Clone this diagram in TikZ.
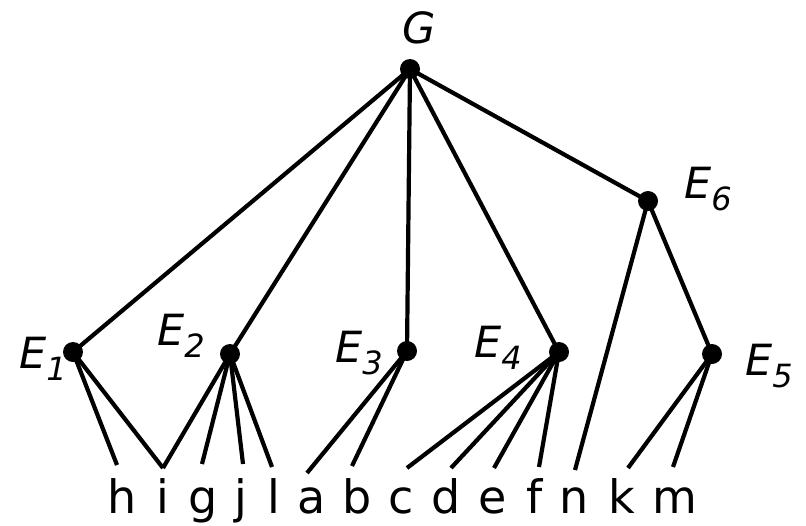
\documentclass[tikz,border=0pt]{standalone}
\usepackage{fontspec}
\setmainfont{DejaVu Sans}
\newcommand{\Elab}[1]{\textit{E}\raisebox{-12pt}{\fontsize{32}{32}\selectfont\textit{#1}}}
\begin{document}
\begin{tikzpicture}[x=1pt,y=-1pt,
  dot/.style={circle,fill=black,inner sep=0pt,minimum size=20pt},
  lab/.style={anchor=base west,inner sep=0pt,font=\fontsize{43}{48}\selectfont},
  leaf/.style={anchor=base,inner sep=0pt,font=\fontsize{46}{52}\selectfont},
  edge/.style={line width=4.2pt}]
\useasboundingbox (0,0) rectangle (806,525);
% internal nodes
\node[dot] (G) at (410,69) {};
\node[dot] (E1) at (73,352) {};
\node[dot] (E2) at (230,354) {};
\node[dot] (E3) at (407,351) {};
\node[dot] (E4) at (559,352) {};
\node[dot] (E5) at (712,354) {};
\node[dot] (E6) at (648,201) {};
% labels
\node[lab] (lG) at (402,43) {\textit{G}};
\node[lab] (l1) at (19,368) {\Elab{1}};
\node[lab] (l2) at (157,345) {\Elab{2}};
\node[lab] (l3) at (335,362) {\Elab{3}};
\node[lab] (l4) at (474,357) {\Elab{4}};
\node[lab] (l5) at (745,375) {\Elab{5}};
\node[lab] (l6) at (684,198) {\Elab{6}};
% leaves
\node[leaf] (h) at (122,513) {h};
\node[leaf] (i) at (163,513) {i};
\node[leaf] (g) at (203,513) {g};
\node[leaf] (j) at (241,513) {j};
\node[leaf] (l) at (274,513) {l};
\node[leaf] (a) at (312,513) {a};
\node[leaf] (b) at (357,513) {b};
\node[leaf] (c) at (401,513) {c};
\node[leaf] (d) at (446,513) {d};
\node[leaf] (e) at (493,513) {e};
\node[leaf] (f) at (535,513) {f};
\node[leaf] (n) at (574,513) {n};
\node[leaf] (k) at (622,513) {k};
\node[leaf] (m) at (675,513) {m};
% line ends above leaves
\coordinate (th) at (117,465);
\coordinate (ti) at (163,468);
\coordinate (tg) at (202,464);
\coordinate (tj) at (243,464);
\coordinate (tl) at (272,467);
\coordinate (ta) at (307,473);
\coordinate (tb) at (352,466);
\coordinate (tc) at (407,468);
\coordinate (td) at (451,468);
\coordinate (te) at (494,468);
\coordinate (tf) at (539,467);
\coordinate (tn) at (575,470);
\coordinate (tk) at (628,468);
\coordinate (tm) at (673,467);
% edges
\draw[edge] (G.center) -- (E1.center);
\draw[edge] (G.center) -- (E2.center);
\draw[edge] (G.center) -- (E3.center);
\draw[edge] (G.center) -- (E4.center);
\draw[edge] (G.center) -- (E6.center);
\draw[edge] (E6.center) -- (E5.center);
\draw[edge] (E6.center) -- (tn);
\draw[edge] (E1.center) -- (th);
\draw[edge] (E1.center) -- (ti);
\draw[edge] (E2.center) -- (ti);
\draw[edge] (E2.center) -- (tg);
\draw[edge] (E2.center) -- (tj);
\draw[edge] (E2.center) -- (tl);
\draw[edge] (E3.center) -- (ta);
\draw[edge] (E3.center) -- (tb);
\draw[edge] (E4.center) -- (tc);
\draw[edge] (E4.center) -- (td);
\draw[edge] (E4.center) -- (te);
\draw[edge] (E4.center) -- (tf);
\draw[edge] (E5.center) -- (tk);
\draw[edge] (E5.center) -- (tm);
\end{tikzpicture}
\end{document}
